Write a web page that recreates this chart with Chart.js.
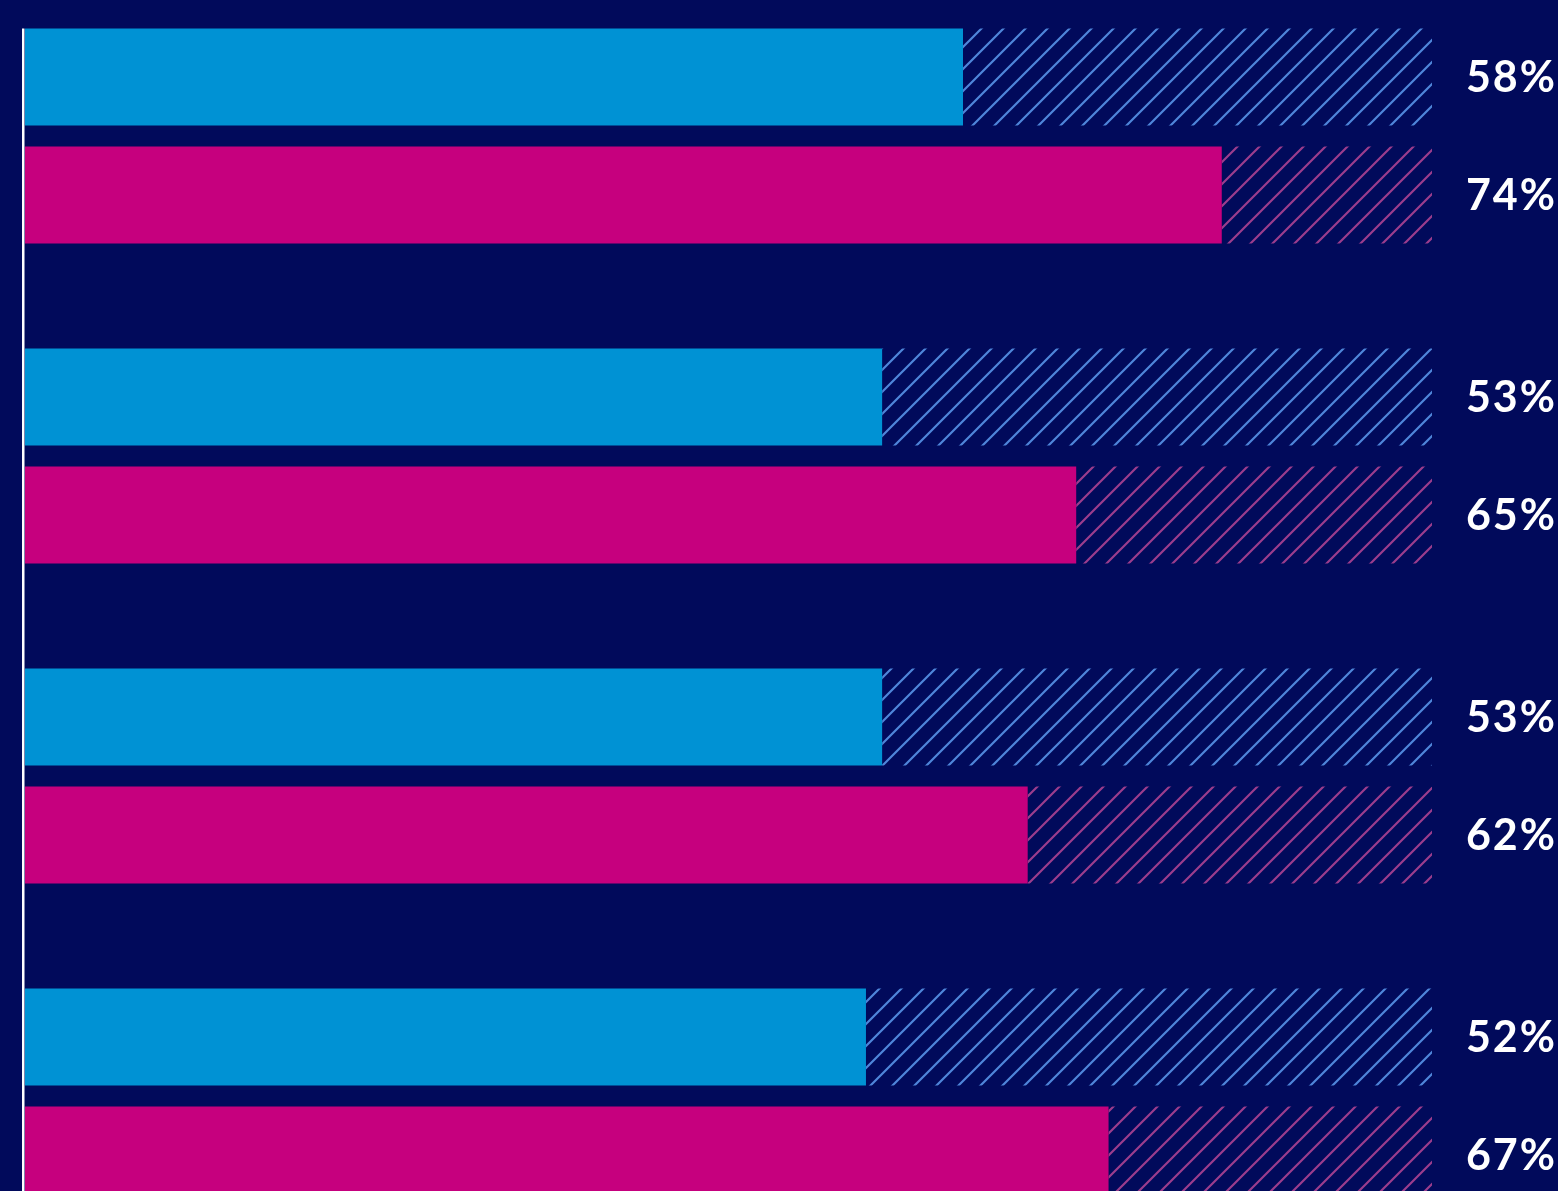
<!DOCTYPE html>
<html lang="en">
<head>
  <meta charset="UTF-8">
  <title>Bars</title>
  <script src="https://cdn.jsdelivr.net/npm/chart.js@4.4.1/dist/chart.umd.min.js"></script>
  <style>
    html, body { margin: 0; padding: 0; background: #010a5b; overflow: hidden; }
    #wrap { position: absolute; left: 0; top: -24px; width: 1558px; height: 1280px; }
  </style>
</head>
<body>
  <div id="wrap"><canvas id="myChart"></canvas></div>

  <script>
  // data
  var groups = ['1', '2', '3', '4'];
  var blueValues = [58, 53, 53, 52];
  var pinkValues = [74, 65, 62, 67];
  var trackMax = 87;

  var blue = '#0092d4';
  var pink = '#c6007e';

  function hatch(color) {
    var s = 22;
    var c = document.createElement('canvas');
    c.width = s; c.height = s;
    var g = c.getContext('2d');
    g.strokeStyle = color;
    g.lineWidth = 2.2;
    g.beginPath();
    g.moveTo(-2, s + 2); g.lineTo(s + 2, -2);
    g.moveTo(-2, 2); g.lineTo(2, -2);
    g.moveTo(s - 2, s + 2); g.lineTo(s + 2, s - 2);
    g.stroke();
    return g.createPattern(c, 'repeat');
  }

  var labelPlugin = {
    id: 'labels',
    afterDatasetsDraw: function(chart) {
      var ctx = chart.ctx;
      var first = chart.getDatasetMeta(0).data[0];
      ctx.save();
      ctx.fillStyle = '#ffffff';
      ctx.fillRect(chart.chartArea.left - 3, first.y - first.height / 2, 2.5, 2000);
      ctx.font = '700 43px Lato';
      ctx.letterSpacing = '2px';
      ctx.textAlign = 'right';
      ctx.textBaseline = 'middle';
      [0, 2].forEach(function(di) {
        var meta = chart.getDatasetMeta(di);
        var vals = chart.data.datasets[di].data;
        meta.data.forEach(function(bar, i) {
          ctx.fillText(vals[i] + '%', 1557, bar.y + 1);
        });
      });
      ctx.restore();
    }
  };

  var ctx = document.getElementById('myChart');
  var myChart = new Chart(ctx, {
    type: 'bar',
    data: {
      labels: groups,
      datasets: [
        { data: blueValues, backgroundColor: blue, stack: 'a' },
        { data: blueValues.map(function(v) { return trackMax - v; }), backgroundColor: hatch('#4f86da'), stack: 'a' },
        { data: pinkValues, backgroundColor: pink, stack: 'b' },
        { data: pinkValues.map(function(v) { return trackMax - v; }), backgroundColor: hatch('#9b3d8d'), stack: 'b' }
      ]
    },
    options: {
      indexAxis: 'y',
      responsive: true,
      maintainAspectRatio: false,
      animation: false,
      categoryPercentage: 0.7375,
      barPercentage: 0.822,
      layout: { padding: { left: 25, right: 126, top: 0, bottom: 0 } },
      plugins: { legend: { display: false }, tooltip: { enabled: false } },
      scales: {
        x: { display: false, stacked: true, min: 0, max: trackMax },
        y: { display: false, stacked: true }
      }
    },
    plugins: [labelPlugin]
  });
  </script>
</body>
</html>
